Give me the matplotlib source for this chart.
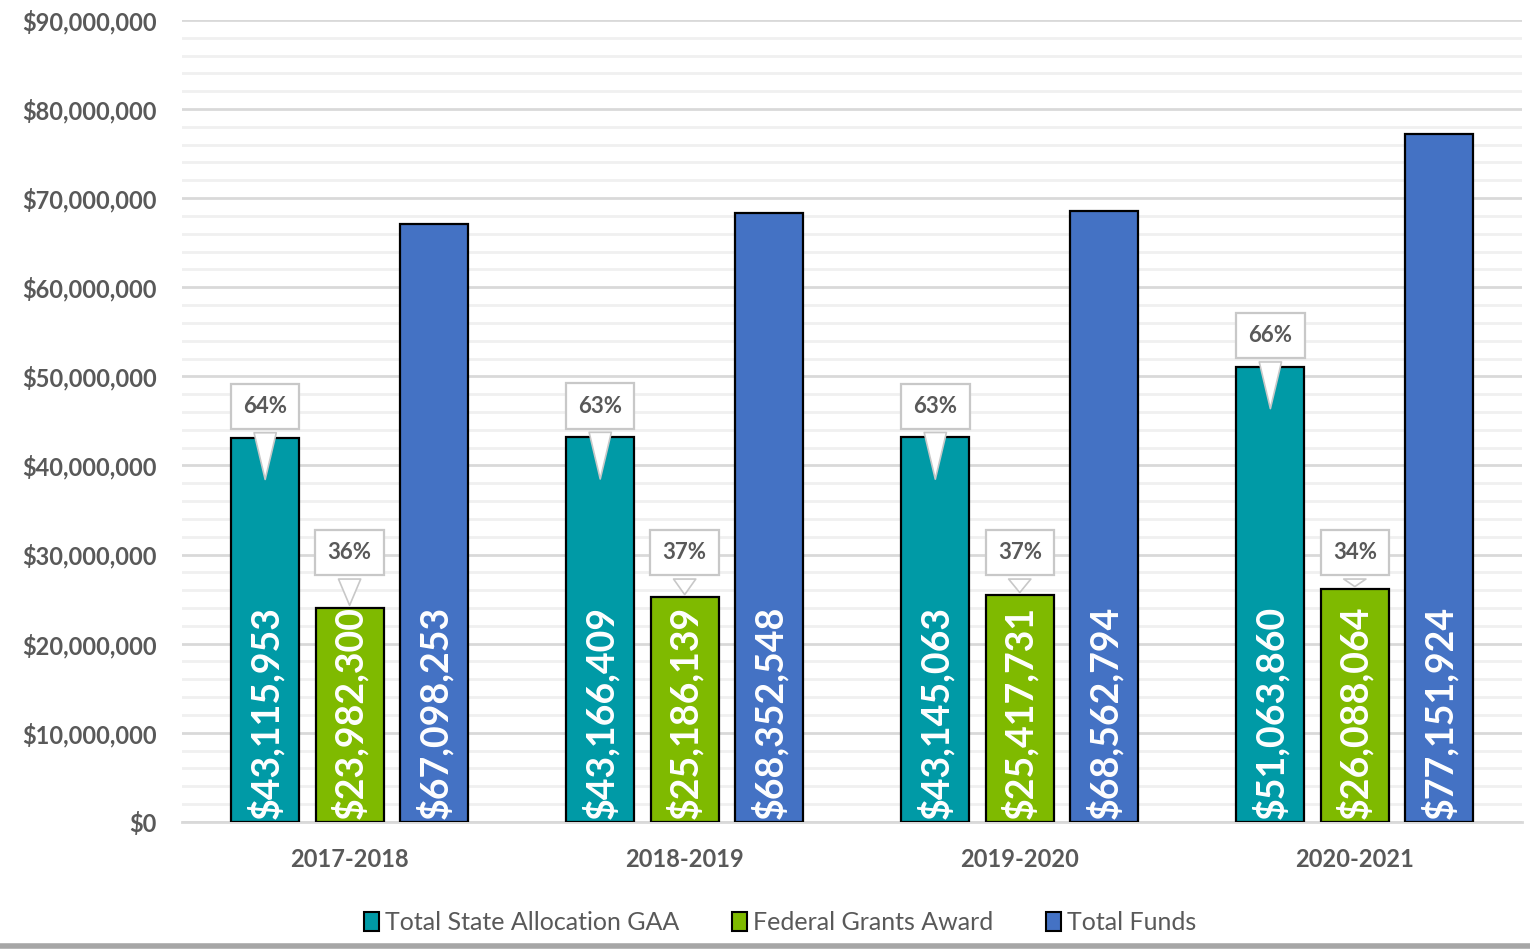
import numpy as np
import matplotlib.pyplot as plt
from matplotlib.ticker import MultipleLocator, FuncFormatter
from matplotlib.patches import Patch

years = ['2017-2018', '2018-2019', '2019-2020', '2020-2021']
state_gaa = [43115953, 43166409, 43145063, 51063860]
federal = [23982300, 25186139, 25417731, 26088064]
total = [67098253, 68352548, 68562794, 77151924]
series_names = ['Total State Allocation GAA', 'Federal Grants Award', 'Total Funds']
colors = ['#009aa6', '#7fba00', '#4472c4']

plt.rcParams['font.family'] = ['Lato', 'DejaVu Sans']

fig = plt.figure(figsize=(15.3, 9.49), dpi=100)
ax = fig.add_axes([0.119, 0.134, 0.876, 0.845])

x = np.arange(len(years))
w = 0.203
off = 0.252
series = [state_gaa, federal, total]
for k, vals in enumerate(series):
    xs = x + (k - 1) * off
    ax.bar(xs, vals, width=w, color=colors[k], edgecolor='black', linewidth=1.6, zorder=3)
    for xi, v in zip(xs, vals):
        ax.text(xi, 0.3e6, '${:,}'.format(v), rotation=90, ha='center', va='bottom',
                color='white', fontsize=27, fontweight='bold', zorder=4)

# percentage callouts
for i in range(len(years)):
    for k, vals in enumerate([state_gaa, federal]):
        pct = round(100 * vals[i] / total[i])
        xi = x[i] + (k - 1) * off
        if k == 0:
            box_y = vals[i] + 3.5e6
            tip_y = vals[i] - 5e6
        else:
            box_y = 30.2e6
            tip_y = vals[i]
        ax.annotate('{}%'.format(pct), xy=(xi, tip_y), xytext=(xi, box_y),
                    ha='center', va='center', fontsize=16, fontweight='bold', color='#595959',
                    bbox=dict(boxstyle='square,pad=0.55', fc='white', ec='#c8c8c8', lw=1.6),
                    arrowprops=dict(arrowstyle='wedge,tail_width=1.0,shrink_factor=0.5',
                                    fc='white', ec='#c8c8c8', lw=1.2),
                    zorder=5)

ax.set_xlim(-0.5, 3.5)
ax.set_ylim(0, 90e6)
ax.yaxis.set_major_locator(MultipleLocator(10e6))
ax.yaxis.set_minor_locator(MultipleLocator(2e6))
ax.yaxis.set_major_formatter(FuncFormatter(lambda v, p: '${:,.0f}'.format(v)))
ax.grid(axis='y', which='major', color='#d9d9d9', lw=2, zorder=0)
ax.grid(axis='y', which='minor', color='#f0f0f0', lw=2, zorder=0)
ax.set_axisbelow(True)
ax.set_xticks(x)
ax.set_xticklabels(years)
for s in ['top', 'right', 'left']:
    ax.spines[s].set_visible(False)
ax.spines['bottom'].set_color('#d9d9d9')
ax.spines['bottom'].set_linewidth(2)
ax.tick_params(axis='both', which='both', length=0, labelcolor='#595959', labelsize=17)
ax.tick_params(axis='y', pad=18)
ax.tick_params(axis='x', pad=19)
for lbl in ax.get_xticklabels() + ax.get_yticklabels():
    lbl.set_fontweight('bold')

handles = [Patch(fc=c, ec='black', lw=1.5) for c in colors]
fig.legend(handles, series_names, loc='center', bbox_to_anchor=(0.51, 0.028), ncol=3,
           frameon=False, fontsize=18, handlelength=0.6, handleheight=0.8,
           handletextpad=0.25, columnspacing=2.1, labelcolor='#595959')

fig.add_artist(plt.Line2D([0, 1], [0.003, 0.003], color='#a6a6a6', lw=4))
fig.savefig('out.png', dpi=100)
